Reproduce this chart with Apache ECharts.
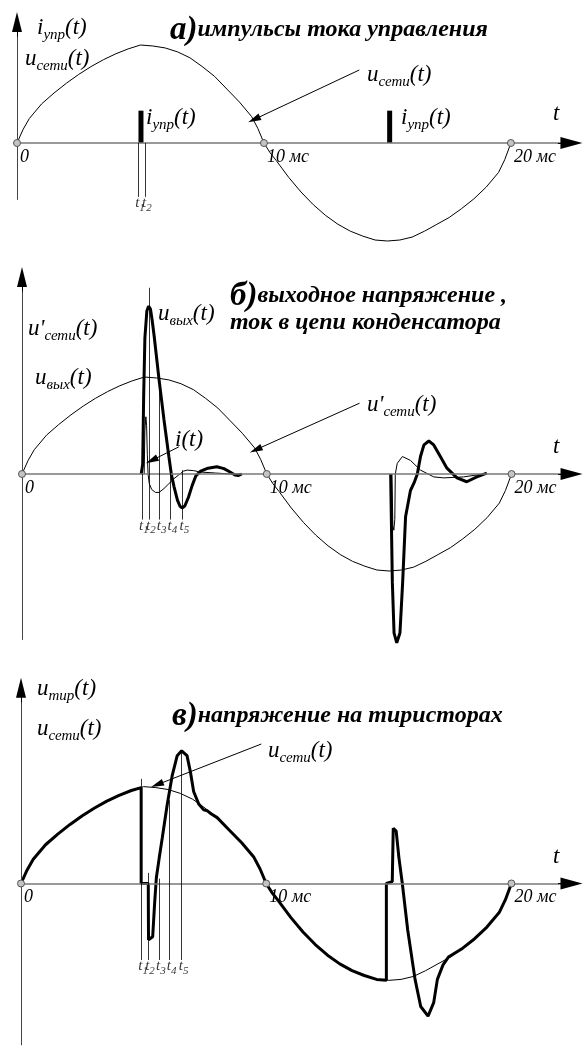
<!DOCTYPE html>
<html>
<head>
<meta charset="utf-8">
<script src="https://cdn.jsdelivr.net/npm/echarts@6/dist/echarts.min.js"></script>
<style>
  html, body { margin: 0; padding: 0; background: #fff; }
  #chart { width: 585px; height: 1053px; }
</style>
</head>
<body>
<div id="chart"></div>
<script>
// ---- Mains voltage over one period (time in ms, value relative to amplitude)
const mainsTime  = [0, 0.25, 0.5, 1, 1.5, 2, 2.5, 3, 3.5, 4, 4.5, 5, 5.5, 6, 6.5, 7, 7.5, 8, 8.5, 9, 9.5, 9.75,
                    10, 10.25, 10.5, 11, 11.5, 12, 12.5, 13, 13.5, 14, 14.5, 15, 15.5, 16, 16.5, 17, 17.5, 18, 18.5, 19, 19.5, 19.75, 20];
const mainsValue = [0, 0.14, 0.25, 0.40, 0.51, 0.61, 0.70, 0.78, 0.85, 0.91, 0.96, 1.0, 0.99, 0.97, 0.93, 0.87, 0.78, 0.68, 0.55, 0.42, 0.27, 0.15,
                    0, -0.10, -0.18, -0.35, -0.50, -0.63, -0.74, -0.83, -0.90, -0.95, -0.99, -1.0, -0.99, -0.96, -0.90, -0.83, -0.76, -0.67, -0.57, -0.45, -0.30, -0.17, 0];

// ---- Gate current pulses i_упр(t)
const gateTime  = [5.02, 15.09];
const gateValue = [0.33, 0.33];

// ---- Switching instants t1..t5 (ms)
const switchTime = [4.9, 5.18, 5.62, 6.06, 6.55];
const switchName = ['1', '2', '3', '4', '5'];

// ---- Period marks on the time axis
const periodTime  = [0, 10, 20];
const periodLabel = ['0', '10 мс', '20 мс'];

// ---- Output voltage u_вых(t): positive half-period transient
const outPosTime  = [4.87, 4.93, 4.97, 5.02, 5.1, 5.17, 5.25, 5.32, 5.4, 5.6, 5.8, 6.0, 6.1, 6.21, 6.35, 6.45, 6.54, 6.65, 6.8, 6.95, 7.1, 7.3, 7.6, 7.96, 8.25, 8.5, 8.7, 8.85, 8.98];
const outPosValue = [0, 0.1, 0.8, 1.4, 1.68, 1.73, 1.7, 1.58, 1.42, 0.97, 0.56, 0.18, 0.0, -0.13, -0.27, -0.33, -0.35, -0.33, -0.24, -0.12, -0.02, 0.03, 0.06, 0.075, 0.055, 0.02, -0.01, -0.015, 0];
// ---- Output voltage u_вых(t): negative half-period transient
const outNegTime  = [15.06, 15.13, 15.2, 15.31, 15.44, 15.55, 15.67, 15.87, 16.02, 16.15, 16.28, 16.42, 16.62, 16.82, 17.09, 17.36, 17.77, 18.17, 18.58, 18.99];
const outNegValue = [0, -1.12, -1.64, -1.74, -1.64, -1.12, -0.44, -0.17, -0.09, 0, 0.18, 0.30, 0.34, 0.30, 0.18, 0.06, -0.04, -0.08, -0.03, 0.01];

// ---- Capacitor current i(t)
const capPosTime  = [4.99, 5.02, 5.06, 5.09, 5.12, 5.15, 5.2, 5.3, 5.45, 5.6, 5.8, 6.0, 6.2, 6.4, 6.6, 6.75, 7.0, 7.3, 7.9, 8.5, 8.97];
const capPosValue = [0, 0.45, 0.59, 0.5, 0.2, 0, -0.1, -0.16, -0.19, -0.19, -0.15, -0.1, -0.05, -0.01, 0.03, 0.04, 0.035, 0.02, 0.01, 0, 0];
const capNegTime  = [15.11, 15.15, 15.19, 15.23, 15.25, 15.33, 15.54, 15.87, 16.28, 16.82, 17.23, 18.04, 18.85];
const capNegValue = [0, -0.53, -0.58, -0.47, 0, 0.11, 0.18, 0.14, 0.04, -0.03, -0.04, -0.03, 0];

// ---- Thyristor voltage u_тир(t): segments where it departs from the mains curve
const thyOnTime   = [4.9, 4.9, 5.19, 5.2, 5.26, 5.37, 5.45, 5.52, 5.64, 5.76, 5.96, 6.17, 6.37, 6.55, 6.77, 6.91, 7.04, 7.25, 7.45, 7.6, 7.75];
const thyOnValue  = [0.99, 0, 0, -0.58, -0.58, -0.55, -0.2, 0.06, 0.27, 0.47, 0.81, 1.12, 1.32, 1.37, 1.32, 1.15, 0.95, 0.82, 0.76, 0.75, 0.72];
const thyOffTime  = [14.9, 14.9, 14.92, 15.14, 15.18, 15.23, 15.3, 15.41, 15.55, 15.77, 16.07, 16.3, 16.6, 16.83, 16.98, 17.21, 17.43, 17.88];
const thyOffValue = [-1.0, 0, 0.02, 0.02, 0.57, 0.59, 0.54, 0.27, 0, -0.48, -0.99, -1.27, -1.37, -1.23, -0.99, -0.84, -0.76, -0.69];

// ---- Vertical reference lines for t1..t5 in each panel (value at upper / lower end)
const tLineTopA = [0, 0];
const tLineTopB = [0, 1.92, 1.02, 0.07, 0.04];
const tLineTopC = [1.08, 0.11, 0.05, 0.86, 1.37];
const tLineBottom = [-0.55, -0.47, -0.79];

// ---------------------------------------------------------------
const zip = (t, v) => t.map((x, i) => [x, v[i]]);
const mains = zip(mainsTime, mainsValue);
const pick = (lo, hi) => mains.filter(p => p[0] >= lo && p[0] <= hi);
const thyristor = [].concat(pick(0, 4.5), zip(thyOnTime, thyOnValue), pick(8, 14.5), zip(thyOffTime, thyOffValue), pick(18, 20));

const SERIF = 'Liberation Serif';
const X_MAX = 23;
const panels = [
  { left: 17, pxPerMs: 24.75, axisY: 143, unit: 98, yMin: -1.1,  yMax: 1.4, yLow: -0.58, yArrow: 1.235 },
  { left: 22, pxPerMs: 24.65, axisY: 474, unit: 97, yMin: -1.85, yMax: 2.2, yLow: -1.71, yArrow: 2.03 },
  { left: 21, pxPerMs: 24.7,  axisY: 886, unit: 98, yMin: -1.75, yMax: 2.2, yLow: -1.67, yArrow: 2.02 }
];

const RICH = {
  m:  { fontFamily: SERIF, fontStyle: 'italic', fontSize: 23, lineHeight: 24, color: '#000' },
  s:  { fontFamily: SERIF, fontStyle: 'italic', fontSize: 15, lineHeight: 15, padding: [15, 0, 0, 0], color: '#000' },
  ta: { fontFamily: SERIF, fontStyle: 'italic', fontWeight: 'bold', fontSize: 33, lineHeight: 34, color: '#000' },
  tb: { fontFamily: SERIF, fontStyle: 'italic', fontWeight: 'bold', fontSize: 24, lineHeight: 34, color: '#000' },
  tv: { fontFamily: SERIF, fontStyle: 'italic', fontSize: 15, lineHeight: 16, color: '#000' },
  tn: { fontFamily: SERIF, fontStyle: 'italic', fontSize: 11, lineHeight: 11, padding: [10, 0, 0, 0], color: '#000' },
  p:  { fontFamily: SERIF, fontStyle: 'italic', fontSize: 18, lineHeight: 20, color: '#000' }
};

const thin  = { color: '#000', width: 1 };
const thick = { color: '#000', width: 3 };
const solidMark = { type: 'solid', color: '#000', width: 1 };

function curve(i, data, style, z) {
  return { type: 'line', xAxisIndex: i, yAxisIndex: i, data: data, showSymbol: false, symbol: 'none',
           lineStyle: style, z: z || 2, silent: true, animation: false };
}

function axes(i) {
  const p = panels[i];
  const grey = { color: '#777', width: 1.6, type: 'solid' };
  const black = { color: '#000', width: 1, type: 'solid' };
  return {
    type: 'line', xAxisIndex: i, yAxisIndex: i, data: [], silent: true, z: 1,
    markLine: {
      silent: true, animation: false, label: { show: false }, symbol: ['none', 'none'],
      lineStyle: solidMark,
      data: [
        [{ coord: [0, 0], lineStyle: grey }, { coord: [22.2, 0] }],
        [{ coord: [21.9, 0], lineStyle: black, itemStyle: { color: '#000' } },
         { coord: [22.45, 0], symbol: 'triangle', symbolSize: [12, 22] }],
        [{ coord: [0, p.yLow], lineStyle: { color: '#444', width: 1, type: 'solid' } }, { coord: [0, p.yArrow - 0.1] }],
        [{ coord: [0, p.yArrow - 0.15], lineStyle: black, itemStyle: { color: '#000' } },
         { coord: [0, p.yArrow], symbol: 'triangle', symbolSize: [10, 20] }]
      ]
    }
  };
}

function tLines(i, tops, count) {
  const data = [];
  for (let k = 0; k < count; k++) {
    data.push([{ coord: [switchTime[k], tops[k]] }, { coord: [switchTime[k], tLineBottom[i]] }]);
  }
  return {
    type: 'line', xAxisIndex: i, yAxisIndex: i, data: [], silent: true, z: 1,
    markLine: { silent: true, animation: false, label: { show: false }, symbol: ['none', 'none'],
                lineStyle: { color: '#000', width: 0.8, type: 'solid' }, data: data }
  };
}

function tLabels(i, count) {
  return {
    type: 'scatter', xAxisIndex: i, yAxisIndex: i, silent: true, symbolSize: 2, z: 6,
    itemStyle: { color: 'rgba(0,0,0,0)' },
    data: switchTime.slice(0, count).map((t, k) => ({ value: [t, tLineBottom[i]], name: switchName[k] })),
    label: { show: true, position: 'bottom', distance: -3, offset: [2, 0], color: '#000',
             formatter: d => '{tv|t}{tn|' + d.name + '}', rich: RICH }
  };
}

function periodMarks(i) {
  return {
    type: 'scatter', xAxisIndex: i, yAxisIndex: i, silent: true, z: 10, symbolSize: 7,
    itemStyle: { color: '#c4c4c4', borderColor: '#555', borderWidth: 1, opacity: 1 },
    data: periodTime.map((t, k) => ({ value: [t, 0], name: periodLabel[k] })),
    label: { show: true, position: [7, 8], formatter: d => '{p|' + d.name + '}', rich: RICH }
  };
}

function pointer(i, from, to) {
  return {
    type: 'line', xAxisIndex: i, yAxisIndex: i, data: [], silent: true, z: 5,
    markLine: { silent: true, animation: false, label: { show: false },
                symbol: ['none', 'triangle'], symbolSize: [7, 13],
                lineStyle: solidMark, itemStyle: { color: '#000' },
                data: [[{ coord: from }, { coord: to }]] }
  };
}

function txt(x, y, text) {
  return { type: 'text', x: x, y: y, z: 100, silent: true,
           style: { text: text, rich: RICH, align: 'left', verticalAlign: 'middle', fill: '#000' } };
}

const series = [
  // panel а
  axes(0), tLines(0, tLineTopA, 2), tLabels(0, 2),
  curve(0, mains, thin, 2),
  { type: 'bar', xAxisIndex: 0, yAxisIndex: 0, data: zip(gateTime, gateValue), barWidth: 5,
    itemStyle: { color: '#000' }, silent: true, animation: false, z: 3 },
  pointer(0, [13.86, 0.745], [9.6, 0.24]),
  periodMarks(0),
  // panel б
  axes(1), tLines(1, tLineTopB, 5), tLabels(1, 5),
  curve(1, mains, thin, 2),
  curve(1, zip(capPosTime, capPosValue), thin, 3),
  curve(1, zip(capNegTime, capNegValue), thin, 3),
  curve(1, zip(outPosTime, outPosValue), thick, 4),
  curve(1, zip(outNegTime, outNegValue), thick, 4),
  pointer(1, [13.79, 0.73], [9.55, 0.25]),
  pointer(1, [6.41, 0.28], [5.3, 0.14]),
  periodMarks(1),
  // panel в
  axes(2), tLines(2, tLineTopC, 5), tLabels(2, 5),
  curve(2, mains, thin, 2),
  curve(2, thyristor, thick, 4),
  pointer(2, [9.8, 1.44], [5.55, 1.02]),
  periodMarks(2)
];

const graphics = [
  // panel а
  txt(37, 28, '{m|i}{s|упр}{m|(t)}'),
  txt(25, 59, '{m|u}{s|сети}{m|(t)}'),
  txt(170, 30, '{ta|а)}{tb|импульсы тока управления}'),
  txt(367, 75, '{m|u}{s|сети}{m|(t)}'),
  txt(146, 118, '{m|i}{s|упр}{m|(t)}'),
  txt(401, 118, '{m|i}{s|упр}{m|(t)}'),
  txt(553, 114, '{m|t}'),
  // panel б
  txt(28, 329, "{m|u'}{s|сети}{m|(t)}"),
  txt(35, 378, '{m|u}{s|вых}{m|(t)}'),
  txt(230, 296, '{ta|б)}{tb|выходное напряжение ,}'),
  txt(230, 323, '{tb|ток в цепи конденсатора}'),
  txt(158, 314, '{m|u}{s|вых}{m|(t)}'),
  txt(175, 440, '{m|i(t)}'),
  txt(367, 405, "{m|u'}{s|сети}{m|(t)}"),
  txt(553, 447, '{m|t}'),
  // panel в
  txt(37, 689, '{m|u}{s|тир}{m|(t)}'),
  txt(37, 729, '{m|u}{s|сети}{m|(t)}'),
  txt(172, 716, '{ta|в)}{tb|напряжение на тиристорах}'),
  txt(268, 751, '{m|u}{s|сети}{m|(t)}'),
  txt(553, 857, '{m|t}')
];

const chart = echarts.init(document.getElementById('chart'), null, { renderer: 'canvas' });
chart.setOption({
  backgroundColor: '#fff',
  animation: false,
  grid: panels.map(p => ({ left: p.left, width: X_MAX * p.pxPerMs, top: p.axisY - p.yMax * p.unit,
                           height: (p.yMax - p.yMin) * p.unit, containLabel: false })),
  xAxis: panels.map((p, i) => ({ type: 'value', gridIndex: i, min: 0, max: X_MAX, show: false })),
  yAxis: panels.map((p, i) => ({ type: 'value', gridIndex: i, min: p.yMin, max: p.yMax, show: false })),
  series: series,
  graphic: graphics
});
</script>
</body>
</html>
